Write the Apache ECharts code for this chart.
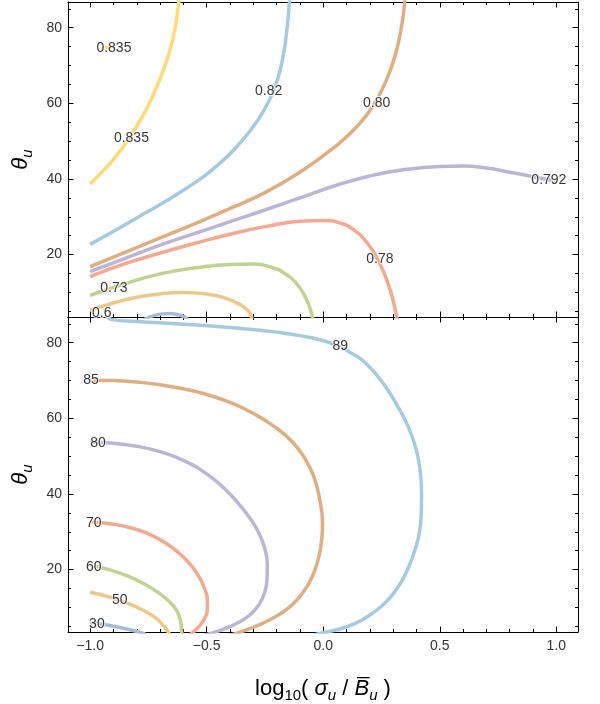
<!DOCTYPE html>
<html><head><meta charset="utf-8">
<script src="https://cdn.jsdelivr.net/npm/echarts@6/dist/echarts.min.js"></script>
<style>html,body{margin:0;padding:0;background:#fff}#c{width:600px;height:704px}</style>
</head><body><div id="c"></div>
<script>
// ---- axis ticks ----
const xMajorTicks = [-1, -0.5, 0, 0.5, 1];
const xMinorTicks = [-1, -0.9, -0.8, -0.7, -0.6, -0.5, -0.4, -0.3, -0.2, -0.1, 0, 0.1, 0.2, 0.3, 0.4, 0.5, 0.6, 0.7, 0.8, 0.9, 1];
const yMajorTicks = [20, 40, 60, 80];
const yMinorTicks = [5, 10, 15, 20, 25, 30, 35, 40, 45, 50, 55, 60, 65, 70, 75, 80, 85];
const xRange = [-1.095, 1.093];
const yRange = [3.5, 86.8];

// ---- top panel contours (x = log10(sigma/B), y = theta) ----
const top_0835a = [[-1.0,38.7],[-0.95,41.8],[-0.9,45.2],[-0.85,49.2],[-0.8,54.0],[-0.75,59.5],[-0.7,66.5],[-0.66,73.5],[-0.635,80.0],[-0.62,86.8],[-0.617,89.0]];
const top_0835b = [[-0.95,74.6],[-0.9,74.9]];
const top_082 = [[-1.0,22.7],[-0.8,29.7],[-0.6,37.0],[-0.45,43.8],[-0.35,50.0],[-0.28,55.6],[-0.23,61.0],[-0.195,66.5],[-0.17,73.2],[-0.155,80.0],[-0.145,86.8],[-0.142,89.0]];
const top_080 = [[-1.0,16.8],[-0.85,20.6],[-0.7,24.4],[-0.55,28.2],[-0.4,32.2],[-0.25,36.4],[-0.1,41.8],[0.04,48.0],[0.15,54.2],[0.22,60.0],[0.27,66.0],[0.31,73.0],[0.335,80.0],[0.35,86.8],[0.353,89.0]];
const top_0792 = [[-1.0,15.5],[-0.85,19.0],[-0.7,22.5],[-0.55,25.6],[-0.4,28.7],[-0.25,31.8],[-0.1,35.0],[0.05,38.2],[0.2,40.8],[0.35,42.5],[0.5,43.3],[0.6,43.4],[0.7,42.9],[0.8,41.8],[0.9,40.6],[1.0,39.4]];
const top_078 = [[-1.0,14.2],[-0.85,17.6],[-0.7,20.4],[-0.55,23.0],[-0.4,25.4],[-0.25,27.4],[-0.1,28.8],[0.0,29.0],[0.07,28.4],[0.13,26.6],[0.19,23.0],[0.24,18.0],[0.28,12.0],[0.305,6.5],[0.315,3.5],[0.318,2.5]];
const top_073 = [[-1.0,9.2],[-0.85,12.3],[-0.7,14.9],[-0.55,16.5],[-0.4,17.4],[-0.3,17.5],[-0.22,16.6],[-0.16,14.8],[-0.11,12.0],[-0.075,8.5],[-0.055,5.5],[-0.045,3.0]];
const top_06 = [[-1.0,5.3],[-0.9,7.2],[-0.8,8.7],[-0.7,9.6],[-0.6,10.0],[-0.5,9.6],[-0.42,8.5],[-0.36,6.9],[-0.32,5.0],[-0.305,3.0]];
const top_low = [[-0.77,2.8],[-0.72,4.0],[-0.66,4.4],[-0.61,3.9],[-0.58,2.8]];
const topLabelText = ['0.835','0.835','0.82','0.80','0.792','0.78','0.73','0.6'];
const topLabelX = [-0.898,-0.823,-0.234,0.229,0.968,0.243,-0.898,-0.95];
const topLabelY = [74.7,50.7,63.3,60.0,39.8,18.7,11.2,4.6];

// ---- bottom panel contours ----
const bot_89 = [[-0.935,87.5],[-0.905,86.1],[-0.8,85.6],[-0.6,84.9],[-0.4,84.0],[-0.2,82.8],[-0.05,81.3],[0.05,79.5],[0.12,77.3],[0.186,74.4],[0.26,69.0],[0.329,62.1],[0.37,57.0],[0.4,51.5],[0.416,46.0],[0.422,40.0],[0.42,34.0],[0.41,29.0],[0.395,25.5],[0.372,21.5],[0.34,17.3],[0.3,13.6],[0.25,10.3],[0.186,7.4],[0.13,5.6],[0.071,4.3],[0.0,3.3],[-0.04,2.7]];
const bot_85 = [[-1.0,70.1],[-0.9,70.0],[-0.8,69.6],[-0.7,68.9],[-0.6,67.8],[-0.5,66.3],[-0.4,64.2],[-0.3,61.3],[-0.2,57.4],[-0.13,53.6],[-0.08,49.5],[-0.04,44.5],[-0.015,38.5],[-0.003,32.1],[-0.005,29.0],[-0.015,24.5],[-0.035,20.0],[-0.065,16.0],[-0.1,12.9],[-0.15,9.8],[-0.2,7.7],[-0.26,5.8],[-0.32,4.3],[-0.38,3.0],[-0.41,2.5]];
const bot_80 = [[-1.0,53.7],[-0.9,53.4],[-0.8,52.6],[-0.7,51.2],[-0.6,48.9],[-0.5,45.3],[-0.42,41.2],[-0.36,37.2],[-0.31,33.2],[-0.275,29.5],[-0.252,25.8],[-0.24,21.5],[-0.241,17.5],[-0.252,13.8],[-0.275,10.8],[-0.315,8.0],[-0.37,5.8],[-0.43,4.2],[-0.49,3.0],[-0.51,2.6]];
const bot_70 = [[-1.0,32.6],[-0.9,32.0],[-0.8,30.6],[-0.72,28.6],[-0.65,25.9],[-0.6,23.3],[-0.56,20.6],[-0.53,17.8],[-0.508,14.8],[-0.497,12.0],[-0.497,9.5],[-0.508,7.2],[-0.528,5.3],[-0.552,3.8],[-0.575,2.6]];
const bot_60 = [[-1.0,21.3],[-0.92,20.0],[-0.843,18.4],[-0.77,16.3],[-0.7,13.6],[-0.655,11.2],[-0.629,9.2],[-0.612,6.5],[-0.607,3.4],[-0.606,2.5]];
const bot_50 = [[-1.0,14.0],[-0.914,12.7],[-0.843,11.2],[-0.771,9.2],[-0.72,7.3],[-0.685,5.2],[-0.664,3.4],[-0.655,2.5]];
const bot_30 = [[-1.0,6.0],[-0.943,5.5],[-0.843,4.3],[-0.786,3.4],[-0.76,2.8]];
const botLabelText = ['89','85','80','70','60','50','30'];
const botLabelX = [0.073,-0.996,-0.966,-0.984,-0.984,-0.873,-0.971];
const botLabelY = [79.0,70.0,53.5,32.4,20.6,12.0,5.7];

// ---- styles ----
const C = {blue:'#A7BAD6', orange:'#EEC886', green:'#C1D38E', red:'#F4A990', purple:'#BDB5D5', brown:'#DFAF81', lblue:'#A6CAE0', yellow:'#FFDC73'};
const FONT = 'Liberation Sans, Arial, sans-serif';
const NA = 4; // axes per grid

function line(data, color, gi) {
  return {type:'line', data, xAxisIndex: gi*NA, yAxisIndex: gi*NA, showSymbol:false, smooth:0.5,
    lineStyle:{color, width:3.5}, silent:true, animation:false, z:3};
}
function labels(xs, ys, ts, gi) {
  return {type:'scatter', xAxisIndex: gi*NA, yAxisIndex: gi*NA, symbolSize:0.1, itemStyle:{color:'rgba(0,0,0,0)'},
    data: xs.map((x,i)=>[x, ys[i], ts[i]]), silent:true, animation:false, z:6,
    label:{show:true, position:'inside', formatter:p=>p.value[2], fontSize:14, fontFamily:FONT, color:'#000',
      textBorderColor:'#fff', textBorderWidth:2}};
}

const xAxes = [], yAxes = [];
function mk(gi, pos, values, len, showLine, showLabel, isX) {
  return {type:'value', gridIndex:gi, position:pos,
    min: isX ? xRange[0] : yRange[0], max: isX ? xRange[1] : yRange[1],
    axisLine:{show:showLine, onZero:false, lineStyle:{color:'#000', width:1}},
    axisTick:{show:true, inside:true, length:len, customValues:values, lineStyle:{color:'#000', width:1}},
    axisLabel:{show:showLabel, customValues:values, fontSize:14, fontFamily:FONT, color:'#333',
      margin: isX ? 7 : 6, formatter: v => isX ? v.toFixed(1).replace('-', '\u2212') : String(v)},
    splitLine:{show:false}, minorTick:{show:false}};
}
function addAxes(gi, bottomLabels) {
  xAxes.push(mk(gi, 'bottom', xMajorTicks, 5.5, true, bottomLabels, true));
  xAxes.push(mk(gi, 'bottom', xMinorTicks, 3, false, false, true));
  xAxes.push(mk(gi, 'top', xMajorTicks, 5.5, true, false, true));
  xAxes.push(mk(gi, 'top', xMinorTicks, 3, false, false, true));
  yAxes.push(mk(gi, 'left', yMajorTicks, 5.5, true, true, false));
  yAxes.push(mk(gi, 'left', yMinorTicks, 3, false, false, false));
  yAxes.push(mk(gi, 'right', yMajorTicks, 5.5, true, false, false));
  yAxes.push(mk(gi, 'right', yMinorTicks, 3, false, false, false));
  const yl = yAxes[gi*NA];
  yl.name = '{t|θ}{s|u}';
  yl.nameLocation = 'middle';
  yl.nameRotate = 90;
  yl.nameGap = 28;
  yl.nameTextStyle = {fontFamily:FONT, color:'#000', fontSize:22,
    rich:{t:{fontFamily:FONT, fontSize:22, fontStyle:'italic', color:'#000'},
          s:{fontFamily:FONT, fontSize:15, fontStyle:'italic', color:'#000', padding:[14,0,0,0], verticalAlign:'bottom'}}};
  if (bottomLabels) {
    const xl = xAxes[gi*NA];
    xl.name = '{n|log}{s|10}{n|( }{i|σ}{su|u}{n| / }{i|B\u0305}{su|u}{n| )}';
    xl.nameLocation = 'middle';
    xl.nameGap = 42;
    xl.nameTextStyle = {fontFamily:FONT, color:'#000', fontSize:22,
      rich:{n:{fontFamily:FONT, fontSize:22, color:'#000'},
            i:{fontFamily:FONT, fontSize:22, fontStyle:'italic', color:'#000'},
            s:{fontFamily:FONT, fontSize:15, color:'#000', padding:[14,0,0,0], verticalAlign:'bottom'},
            su:{fontFamily:FONT, fontSize:15, fontStyle:'italic', color:'#000', padding:[14,0,0,0], verticalAlign:'bottom'}}};
  }
}
addAxes(0, false);
addAxes(1, true);

const series = [
  line(top_low, C.blue, 0), line(top_06, C.orange, 0), line(top_073, C.green, 0), line(top_078, C.red, 0),
  line(top_0792, C.purple, 0), line(top_080, C.brown, 0), line(top_082, C.lblue, 0),
  line(top_0835a, C.yellow, 0), line(top_0835b, C.yellow, 0),
  labels(topLabelX, topLabelY, topLabelText, 0),
  line(bot_30, C.blue, 1), line(bot_50, C.orange, 1), line(bot_60, C.green, 1), line(bot_70, C.red, 1),
  line(bot_80, C.purple, 1), line(bot_85, C.brown, 1), line(bot_89, C.lblue, 1),
  labels(botLabelX, botLabelY, botLabelText, 1)
];

const chart = echarts.init(document.getElementById('c'), null, {renderer:'canvas'});
chart.setOption({
  animation:false,
  backgroundColor:'#fff',
  grid:[
    {left:68, top:2, width:510, height:315, outerBoundsMode:'none', containLabel:false},
    {left:68, top:317, width:510, height:315, outerBoundsMode:'none', containLabel:false}
  ],
  xAxis: xAxes,
  yAxis: yAxes,
  series
});
</script></body></html>
